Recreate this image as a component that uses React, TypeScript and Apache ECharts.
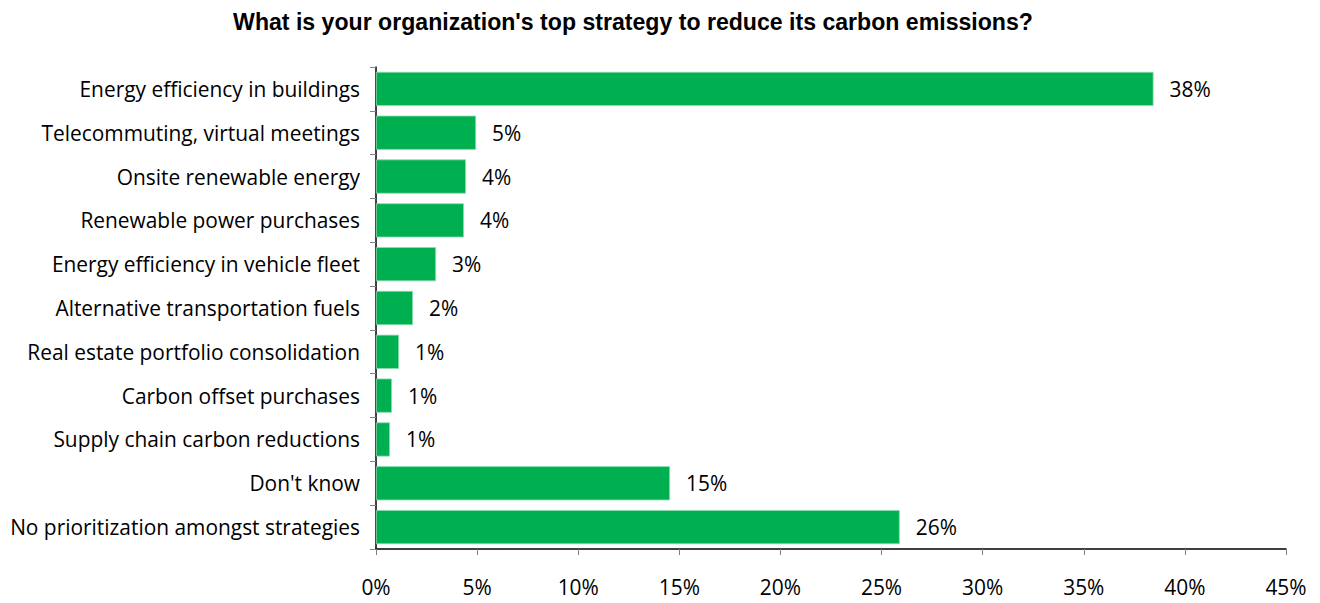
import React, { useEffect, useRef } from "react";
import * as echarts from "echarts";

const titleText = "What is your organization's top strategy to reduce its carbon emissions?";

const categories = [
  "Energy efficiency in buildings",
  "Telecommuting, virtual meetings",
  "Onsite renewable energy",
  "Renewable power purchases",
  "Energy efficiency in vehicle fleet",
  "Alternative transportation fuels",
  "Real estate portfolio consolidation",
  "Carbon offset purchases",
  "Supply chain carbon reductions",
  "Don't know",
  "No prioritization amongst strategies",
];

const values = [38.45, 4.95, 4.45, 4.35, 2.97, 1.83, 1.14, 0.79, 0.69, 14.54, 25.9];

const xMin = 0;
const xMax = 45;
const xInterval = 5;

const FONT = "Open Sans";
const FS = 20.9;

export default function App() {
  const ref = useRef<HTMLDivElement>(null);
  useEffect(() => {
    if (!ref.current) return;
    const chart = echarts.init(ref.current, null, { renderer: "svg" });
    chart.setOption({
      animation: false,
      title: {
        text: titleText,
        left: 628,
        textAlign: "center",
        top: 5,
        textStyle: {
          fontFamily: "Liberation Sans",
          fontWeight: "bold",
          fontSize: 23.1,
          color: "#000",
        },
      },
      grid: { left: 376, right: 34, top: 67, bottom: 54, containLabel: false },
      xAxis: {
        type: "value",
        min: xMin,
        max: xMax,
        interval: xInterval,
        axisLine: { show: true, lineStyle: { color: "#000", width: 1.5 } },
        axisTick: { show: true, length: 6, lineStyle: { color: "#808080" } },
        splitLine: { show: false },
        axisLabel: {
          formatter: (v: number) => v + "%",
          margin: 27,
          fontFamily: FONT,
          fontSize: FS,
          color: "#000",
        },
      },
      yAxis: {
        type: "category",
        data: categories,
        inverse: true,
        axisLine: { show: true, lineStyle: { color: "#000", width: 1.5 } },
        axisTick: { show: true, length: 6, lineStyle: { color: "#808080" } },
        axisLabel: {
          margin: 16,
          fontFamily: FONT,
          fontSize: FS,
          color: "#000",
        },
      },
      series: [
        {
          type: "bar",
          data: values,
          barCategoryGap: "22%",
          itemStyle: { color: "#00B050", borderColor: "#8fdcb0", borderWidth: 0.8 },
          label: {
            show: true,
            position: "right",
            distance: 16,
            formatter: (p: any) => Math.round(p.value) + "%",
            fontFamily: FONT,
            fontSize: FS,
            color: "#000",
          },
        },
      ],
    });
    return () => chart.dispose();
  }, []);
  return <div ref={ref} style={{ width: 1320, height: 603, margin: -8 }} />;
}
